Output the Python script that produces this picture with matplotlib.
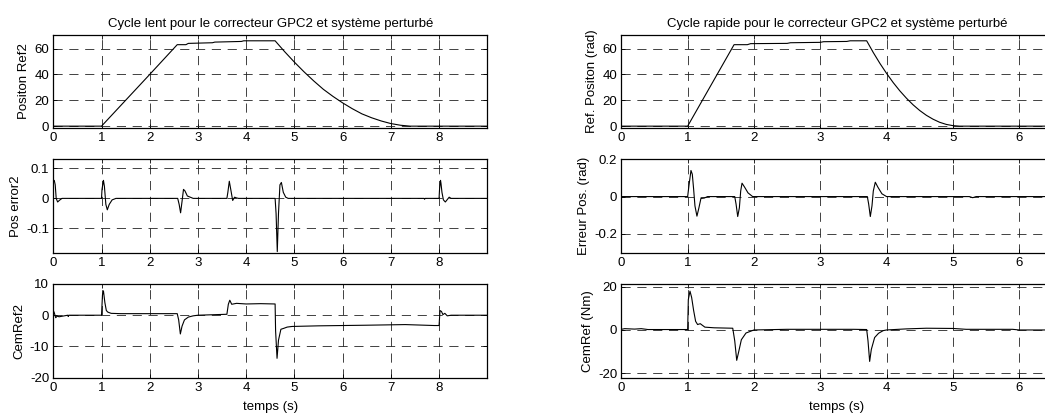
import matplotlib
matplotlib.use('Agg')
import matplotlib.pyplot as plt

plt.rcParams['font.family'] = ['Liberation Sans', 'DejaVu Sans']
plt.rcParams['font.size'] = 9.5
plt.rcParams['axes.unicode_minus'] = False

# ---------------- cycle lent (colonne gauche) ----------------
t_pos_lent = [0, 1.0, 2.0, 2.57, 2.75, 2.8, 3.3, 3.35, 3.9, 3.95, 4.6,
              4.8, 5.0, 5.2, 5.4, 5.6, 5.8, 6.0, 6.2, 6.4, 6.6, 6.8, 7.0, 7.2, 7.4, 9.0]
pos_lent = [0, 0, 40, 63, 63, 64, 64.5, 65, 65.5, 66, 66,
            57.5, 49.5, 42, 35, 28.5, 23, 18, 13.5, 9.5, 6.5, 4, 2, 0.7, 0, 0]

t_err_lent = [0, 0.02, 0.04, 0.06, 0.09, 0.13, 0.18, 1.0, 1.01, 1.03, 1.04, 1.06, 1.09,
              1.12, 1.16, 1.22, 1.3, 2.58, 2.61, 2.64, 2.67, 2.70, 2.73, 2.78, 2.9,
              3.6, 3.62, 3.65, 3.68, 3.72, 3.76, 3.79, 3.84, 4.6, 4.62, 4.645, 4.67,
              4.70, 4.73, 4.77, 4.82, 4.87, 7.69, 7.70, 7.71, 8.0, 8.01, 8.03, 8.04,
              8.06, 8.09, 8.13, 8.17, 8.21, 8.25, 9.0]
err_lent = [0.055, 0.06, 0.045, 0.0, -0.012, -0.006, 0, 0, 0.03, 0.05, 0.06, 0.04, -0.02,
            -0.038, -0.02, -0.005, 0, 0, -0.02, -0.048, -0.01, 0.03, 0.025, 0.008, 0,
            0, 0.02, 0.057, 0.03, -0.007, 0.004, 0.002, 0, 0, -0.05, -0.177, -0.05,
            0.045, 0.053, 0.02, 0.004, 0, 0, -0.003, 0, 0, 0.03, 0.06, 0.05,
            0.02, -0.005, -0.012, -0.004, 0.004, 0, 0]

t_cem_lent = [0, 0.02, 0.05, 0.08, 0.12, 0.3, 0.31, 0.32, 1.0, 1.02, 1.04, 1.07, 1.1,
              1.13, 1.2, 1.4, 2.57, 2.6, 2.635, 2.67, 2.72, 2.8, 2.9, 3.0, 3.6, 3.63,
              3.66, 3.7, 3.8, 4.0, 4.3, 4.6, 4.61, 4.64, 4.67, 4.72, 4.78, 4.85, 4.95,
              5.5, 6.5, 7.3, 7.9, 8.0, 8.02, 8.05, 8.08, 8.12, 8.17, 8.25, 9.0]
cem_lent = [1.5, 0.8, -0.8, -0.3, -0.5, 0, -0.4, 0, 0, 6.5, 7.8, 4, 1.5,
            1, 0.6, 0.5, 0.5, -1.5, -6, -3.5, -1.5, -0.6, -0.2, 0, 0.3, 3.5,
            4.8, 3.5, 3.8, 3.6, 3.7, 3.6, -5, -13.8, -8, -4.5, -4.2, -3.8, -3.6,
            -3.4, -3.2, -3.0, -3.3, -3.3, 1.5, 1.2, 0.2, 0.6, -0.2, 0, 0]

# ---------------- cycle rapide (colonne droite) ----------------
t_pos_rap = [0, 1.0, 1.70, 1.9, 1.95, 2.5, 2.55, 3.0, 3.05, 3.4, 3.45, 3.7,
             3.8, 3.9, 4.0, 4.1, 4.2, 4.3, 4.4, 4.5, 4.6, 4.7, 4.8, 4.9, 5.0, 5.1, 6.5]
pos_rap = [0, 0, 63, 63, 63.8, 64, 64.5, 64.8, 65.3, 65.5, 66, 66,
           56.9, 48.5, 40.8, 33.7, 27.3, 21.6, 16.5, 12.1, 8.4, 5.4, 3.0, 1.35, 0.4, 0, 0]

t_err_rap = [0, 1.0, 1.02, 1.05, 1.07, 1.09, 1.11, 1.14, 1.17, 1.2, 1.25, 1.3,
             1.71, 1.73, 1.755, 1.78, 1.8, 1.82, 1.86, 1.91, 1.98,
             3.71, 3.73, 3.755, 3.78, 3.8, 3.83, 3.87, 3.93, 4.0, 5.25, 5.3, 5.35, 6.5]
err_rap = [0, 0, 0.06, 0.14, 0.12, 0.04, -0.05, -0.105, -0.06, -0.01, -0.008, 0,
           0, -0.04, -0.107, -0.06, 0.03, 0.072, 0.05, 0.02, 0,
           0, -0.04, -0.107, -0.05, 0.03, 0.077, 0.05, 0.015, 0, 0, -0.006, 0, 0]

t_cem_rap = [0, 0.05, 0.2, 0.3, 0.4, 1.0, 1.01, 1.035, 1.06, 1.09, 1.12, 1.15, 1.19,
             1.22, 1.26, 1.4, 1.68, 1.71, 1.74, 1.77, 1.81, 1.88, 2.0, 2.5, 3.0, 3.5,
             3.7, 3.72, 3.745, 3.77, 3.82, 3.88, 3.95, 4.0, 4.3, 4.6, 5.0, 5.2, 5.9,
             6.0, 6.5]
cem_rap = [0.3, 0.6, 0.4, 0.6, 0.2, 0.2, 14, 17.9, 15, 9, 4, 2.5, 2.9,
           2.2, 1.3, 1.0, 0.8, -5, -14, -10, -4.5, -1.4, 0, 0.3, 0.3, 0.3,
           0.2, -5, -14.5, -9, -3.5, -1.5, -0.3, 0, 0.5, 0.8, 0.7, 0.3, 0.3,
           0, 0]

titles = ['Cycle lent pour le correcteur GPC2 et système perturbé',
          'Cycle rapide pour le correcteur GPC2 et système perturbé']
ylabels_lent = ['Positon Ref2', 'Pos error2', 'CemRef2']
ylabels_rap = ['Ref. Positon (rad)', 'Erreur Pos. (rad)', 'CemRef (Nm)']


def style_axes(ax, xlim, xticks, ylim, yticks):
    ax.set_xlim(xlim)
    ax.set_ylim(ylim)
    ax.set_xticks(xticks)
    ax.set_yticks(yticks)
    ax.tick_params(direction='in', top=True, right=True, length=3, width=0.6, pad=3)
    ax.grid(True, color='#222222', linestyle=(0, (11, 8)), linewidth=0.6)
    for s in ax.spines.values():
        s.set_linewidth(0.9)


fig = plt.figure(figsize=(10.45, 4.13), dpi=100)

rows = [(0.6908, 0.2245), (0.3886, 0.2257), (0.0855, 0.2269)]
col_left = (0.051, 0.4153)
col_right = (0.5946, 0.4124)

# colonne gauche
lent_data = [(t_pos_lent, pos_lent, (-1.2, 70.5), [0, 20, 40, 60]),
             (t_err_lent, err_lent, (-0.18, 0.13), [-0.1, 0, 0.1]),
             (t_cem_lent, cem_lent, (-20, 10), [-20, -10, 0, 10])]
for i, (tt, yy, yl, yt) in enumerate(lent_data):
    ax = fig.add_axes([col_left[0], rows[i][0], col_left[1], rows[i][1]])
    ax.plot(tt, yy, color='black', linewidth=0.8)
    style_axes(ax, (0, 9), range(0, 9), yl, yt)
    ax.set_yticklabels([('%g' % v) for v in yt])
    ax.set_ylabel(ylabels_lent[i], labelpad=3)
    if i == 0:
        ax.set_title(titles[0], fontsize=9.5, pad=6)
    if i == 2:
        ax.set_xlabel('temps (s)', labelpad=5)

# colonne droite
rap_data = [(t_pos_rap, pos_rap, (-1.2, 70.5), [0, 20, 40, 60]),
            (t_err_rap, err_rap, (-0.3, 0.2), [-0.2, 0, 0.2]),
            (t_cem_rap, cem_rap, (-22, 21.2), [-20, 0, 20])]
for i, (tt, yy, yl, yt) in enumerate(rap_data):
    ax = fig.add_axes([col_right[0], rows[i][0], col_right[1], rows[i][1]])
    ax.plot(tt, yy, color='black', linewidth=0.8)
    style_axes(ax, (0, 6.5), range(0, 7), yl, yt)
    ax.set_yticklabels([('%g' % v) for v in yt])
    ax.set_ylabel(ylabels_rap[i], labelpad=3)
    if i == 0:
        ax.set_title(titles[1], fontsize=9.5, pad=6)
    if i == 2:
        ax.set_xlabel('temps (s)', labelpad=5)

fig.savefig('out.png', dpi=100)
